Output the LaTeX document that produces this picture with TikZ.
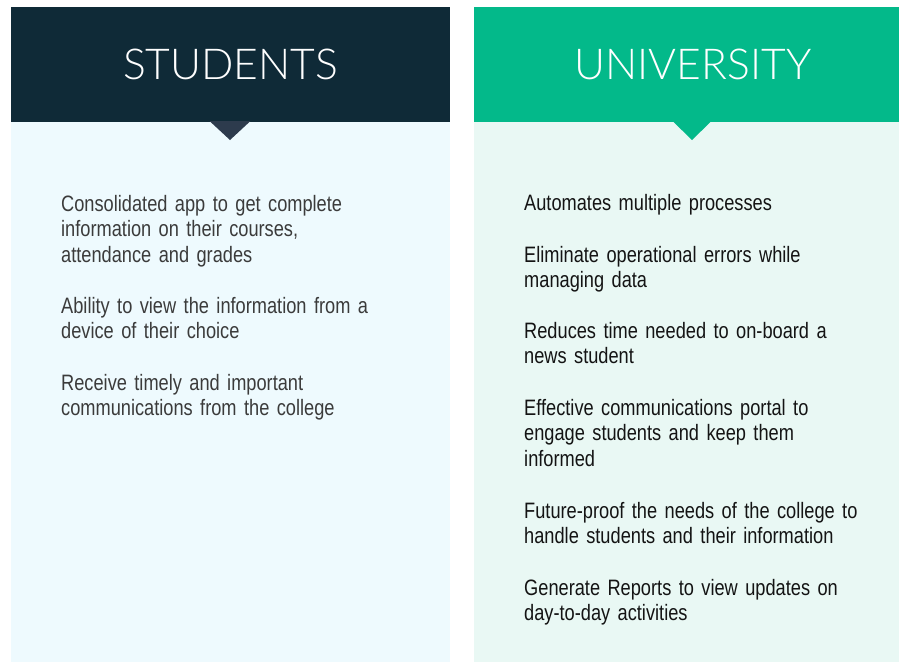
\documentclass[tikz,border=0pt]{standalone}
\usepackage{fontspec}
\setmainfont{Liberation Sans}[FakeStretch=0.817]
\newfontfamily\thinfont{Lato Light}
\usetikzlibrary{positioning}
\definecolor{studark}{HTML}{0F2A37}
\definecolor{stutip}{HTML}{2D3B4D}
\definecolor{stuback}{HTML}{EEFAFE}
\definecolor{unigreen}{HTML}{03B98A}
\definecolor{uniback}{HTML}{E9F8F4}
\definecolor{stutext}{HTML}{3B3B3B}
\definecolor{unitext}{HTML}{141414}
\begin{document}
\begin{tikzpicture}[x=1pt,y=-1pt,
  box/.style={anchor=north west,inner sep=0pt,outer sep=0pt},
  title/.style={text=white,font=\thinfont\fontsize{42.6}{48}\selectfont},
  item/.style={anchor=base west,inner sep=0pt,text width=380pt,align=left,
    font=\fontsize{22.3}{25.4}\selectfont}]

  \useasboundingbox (0,0) rectangle (899,662);

  \node[box,fill=studark,minimum width=439,minimum height=115] (shead) at (11,7) {};
  \node[box,fill=stuback,minimum width=439,minimum height=540] (sbody) at (11,122) {};
  \node[box,fill=unigreen,minimum width=425,minimum height=115] (uhead) at (474,7) {};
  \node[box,fill=uniback,minimum width=425,minimum height=540] (ubody) at (474,122) {};

  \fill[stutip] (209.5,121) -- (250.5,121) -- (230,140) -- cycle;
  \fill[unigreen] (672.5,121) -- (711.5,121) -- (692,140) -- cycle;

  \node[title] (stitle) at (230.5,64.5) {STUDENTS};
  \node[title] (utitle) at (693,64.5) {UNIVERSITY};

  \node[item,text=stutext] (s1) at (61,211.5) {Consolidated app to get complete\\information on their courses,\\attendance and grades};
  \node[item,text=stutext] (s2) at (61,313) {Ability to view the information from a\\device of their choice};
  \node[item,text=stutext] (s3) at (61,390) {Receive timely and important\\communications from the college};

  \node[item,text=unitext] (u1) at (524,210.5) {Automates multiple processes};
  \node[item,text=unitext] (u2) at (524,262) {Eliminate operational errors while\\managing data};
  \node[item,text=unitext] (u3) at (524,338.5) {Reduces time needed to on-board a\\news student};
  \node[item,text=unitext] (u4) at (524,415.5) {Effective communications portal to\\engage students and keep them\\informed};
  \node[item,text=unitext] (u5) at (524,518) {Future-proof the needs of the college to\\handle students and their information};
  \node[item,text=unitext] (u6) at (524,595.5) {Generate Reports to view updates on\\day-to-day activities};

\end{tikzpicture}
\end{document}
